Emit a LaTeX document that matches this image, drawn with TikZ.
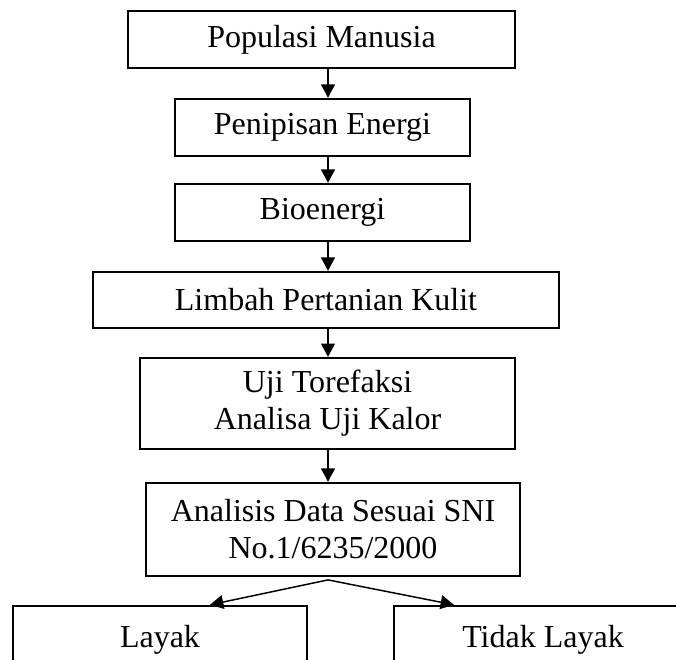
\documentclass[tikz,border=0pt]{standalone}
\usepackage{fontspec}
\setmainfont{Liberation Serif}
\usetikzlibrary{arrows.meta,positioning}
\tikzset{
    mybox/.style={
        draw,
        line width=0.9pt,
        align=center,
        inner sep=2pt,
        font=\fontsize{12}{13.9}\selectfont
    },
    myarr/.style={
        -{Triangle[width=5.2pt,length=5pt]},
        line width=0.55pt
    }
}

\begin{document}
\begin{tikzpicture}[x=0.375pt,y=-0.375pt]
        \useasboundingbox (0,0) rectangle (676,659);
        \clip (0,0) rectangle (676,659);

        % draw boxes
        \node[mybox, minimum width=145.1pt, minimum height=21.4pt] (pop) at (321.5,39.5) {Populasi Manusia};
        \node[mybox, minimum width=110.6pt, minimum height=21.4pt] (pen) at (322.5,127.5) {Penipisan Energi};
        \node[mybox, minimum width=110.6pt, minimum height=21.4pt] (bio) at (322.5,212.5) {Bioenergi};
        \node[mybox, minimum width=174.8pt, minimum height=21pt] (lim) at (326,300) {Limbah Pertanian Kulit};
        \node[mybox, minimum width=140.6pt, minimum height=34.1pt] (uji) at (327.5,403.5) {Uji Torefaksi\\Analisa Uji Kalor};
        \node[mybox, minimum width=140.3pt, minimum height=34.9pt] (ana) at (333,529.5) {Analisis Data Sesuai SNI\\No.1/6235/2000};
        \node[mybox, minimum width=110.3pt, minimum height=25.5pt] (layak) at (160,640) {Layak};
        \node[mybox, minimum width=111.8pt, minimum height=25.5pt] (tlayak) at (543,640) {Tidak Layak};

        % draw arrows
        \coordinate (spine) at (328,0);
        \foreach \a/\b in {pop/pen, pen/bio, bio/lim, lim/uji, uji/ana}
        {
            \draw[myarr] (\a.south -| spine) -- (\b.north -| spine);
        }
        \coordinate (split) at ([yshift=-1pt]ana.south -| spine);
        \draw[myarr] (split) -- ([xshift=18.75pt]layak.north);
        \draw[myarr] (split) -- ([xshift=-33.4pt]tlayak.north);
    \end{tikzpicture}
\end{document}
